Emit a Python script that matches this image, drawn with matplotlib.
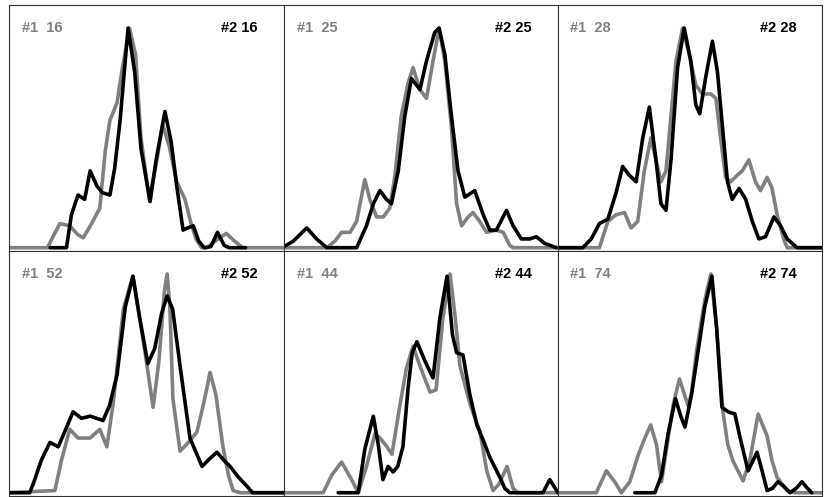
import numpy as np
import matplotlib.pyplot as plt

# panel labels (row by row)
labels = ["16", "25", "28", "52", "44", "74"]

# curve points: x = percent of panel width, y = relative height (peak = 100)
# panel 16
g16_x = [0, 14, 16, 18.5, 22, 25, 27, 30.5, 33, 35, 36.7, 39.3, 41, 43.8, 46, 48, 51, 53.5, 55.9, 58.3, 61, 64, 66, 68, 70, 72, 75, 79, 82, 85, 100]
g16_y = [0, 0, 5, 11, 10, 6, 4.5, 12, 18, 44, 58, 66, 80, 100, 88, 50, 22, 38, 56, 46, 30, 22, 12, 4, 0, 0, 3, 6.5, 3, 0, 0]
b16_x = [14.9, 20.9, 22.7, 25.1, 27.5, 29.5, 32, 34, 36.7, 38.4, 40.4, 43.3, 45.7, 48, 51.3, 53.5, 56.7, 59, 61, 63.3, 65, 67, 69, 71, 73.4, 75.8, 78.3, 80, 86]
b16_y = [0, 0, 15, 24, 22, 35, 28, 25, 24, 36, 58, 100, 80, 45, 21, 40, 62, 48, 28, 8, 9, 10, 3, 0, 0.5, 7, 1, 0, 0]

# panel 25
g25_x = [0, 15.6, 18.6, 21, 24.1, 26.5, 29.5, 31.3, 33.8, 36.2, 38.6, 40.5, 42.8, 45.3, 47.1, 49.6, 52, 54.4, 56.6, 58.7, 61.1, 63, 64.8, 67.2, 69, 71.4, 73.9, 77.5, 80, 82.4, 83.6, 100]
g25_y = [0, 0, 3, 7, 7, 12, 31, 22, 14, 14, 18, 33, 60, 75, 82, 72, 68, 85, 100, 85, 55, 20, 10, 14, 16, 12, 7, 8, 7, 1, 0, 0]
b25_x = [0, 3.4, 8.3, 11.9, 15.6, 26.5, 30.1, 32.6, 35, 37.4, 39.2, 41.7, 44.1, 46.5, 49.6, 52, 55, 56.6, 58.7, 61.1, 63.5, 66, 69.6, 72.7, 75.1, 77.5, 81.2, 83.6, 86.6, 89.7, 92.1, 95.1, 99.4]
b25_y = [0.5, 3, 9, 4, 0, 0, 10, 20, 26, 22, 20, 35, 60, 77, 72, 85, 98, 100, 88, 60, 35, 23, 26, 15, 8, 8, 17, 10, 4, 4, 5, 2, 0]

# panel 28
g28_x = [0, 15.7, 18.9, 22, 25.2, 27.7, 30.2, 32.7, 35.2, 37.1, 39, 40.9, 42.8, 44.7, 47.2, 49.7, 52.2, 54.7, 57.9, 59.8, 61.6, 63.5, 65.4, 67.9, 69.8, 72.3, 74.8, 76.7, 79.2, 81.1, 83, 85.5, 86.8, 100]
g28_y = [0, 0, 12, 15, 16, 9, 12, 35, 50, 40, 30, 35, 60, 85, 100, 88, 74, 70, 70, 68, 50, 32, 30, 33, 35, 40, 30, 26, 32, 27, 15, 4, 0, 0]
b28_x = [0, 9.4, 12.6, 15.7, 18.9, 22, 24.5, 27, 29.6, 32.1, 34.6, 37.1, 39, 40.9, 42.8, 45.3, 47.8, 50.3, 52.2, 53.7, 56, 58.5, 60.4, 62.3, 64.2, 66, 68.6, 71.1, 73.6, 76.1, 78.6, 81.8, 84.3, 86.8, 90.6, 100]
b28_y = [0, 0, 4, 11, 13, 25, 37, 33, 30, 50, 64, 40, 20, 17, 40, 82, 100, 85, 65, 61, 78, 94, 80, 55, 30, 22, 27, 22, 12, 4, 5, 14, 10, 4, 0, 0]

# panel 52
g52_x = [0, 16.7, 19.1, 22.1, 25.1, 29.5, 33, 35.6, 38, 41.6, 45, 47.5, 49.5, 52.4, 54.5, 56.5, 57.5, 58.5, 59.6, 62.2, 64.5, 68.3, 71, 73.1, 75.2, 77.8, 79.8, 81.5, 84, 100]
g52_y = [0, 1, 15, 29, 25, 25, 29, 21, 42, 84, 99, 80, 64, 39, 60, 92, 100, 85, 43, 19, 22, 27.6, 42, 55, 45, 21, 8, 1, 0, 0]
b52_x = [0, 7.5, 8.8, 11.8, 14.9, 17.9, 20.3, 23.3, 26.3, 29.5, 34.2, 36.6, 39.3, 42.3, 45.1, 47.5, 50.5, 53, 55.5, 57.5, 59.5, 62.2, 65.8, 70.2, 72.5, 75.6, 78, 80.4, 83.5, 86.5, 88.6, 100]
b52_y = [0, 0, 4, 15, 23, 21, 28, 37, 34, 35, 33, 40, 54, 85, 99, 80, 59, 66, 82, 90, 84, 58, 25, 12, 15, 18.5, 15, 12, 7, 3, 0, 0]

# panel 44
g44_x = [0, 14.3, 17.4, 21, 24.7, 27.1, 30.1, 33.2, 35, 37, 39.4, 42.3, 44.7, 47.1, 49.6, 53.3, 55.5, 58, 60.6, 62.5, 64.2, 68, 71.5, 74, 76.3, 78.5, 81.4, 83.6, 85.4, 100]
g44_y = [0, 0, 8, 14, 6, 0, 12, 27, 25, 22, 17.6, 40, 57, 67, 58, 46, 47, 80, 100, 80, 58, 40, 28, 10, 1, 4, 12, 2, 0, 0]
b44_x = [19.8, 27.1, 29.5, 32.6, 34.4, 36.1, 38, 39.8, 41.5, 43.4, 45.3, 46.8, 48.5, 51.5, 54.4, 56.9, 59.5, 61.5, 63, 65.3, 67.8, 70.4, 72.7, 75.2, 78.8, 80.6, 82.4, 94.5, 97, 100]
b44_y = [0, 0, 20, 35, 22, 6, 12, 9.5, 12, 21, 48, 64, 69, 60, 52.5, 80, 99, 72, 64, 63, 45, 31, 24, 16, 7, 2, 0, 0, 6, 0]

# panel 74
g74_x = [0, 14.5, 18.3, 21.5, 24, 27.2, 30.3, 32.9, 35.1, 37.3, 39.2, 41.1, 43.6, 46, 49.2, 50.5, 52.5, 55.6, 57.9, 60.1, 62.5, 64.3, 66.3, 70.1, 72.7, 75.8, 79.2, 81, 83, 86.7, 89.8, 100]
g74_y = [0, 0, 10, 5, 0, 5, 17, 25, 31, 22, 5, 20, 40, 52, 40, 45, 65, 88, 100, 75, 37, 22, 14.5, 5.4, 15, 36, 26, 15, 7, 1, 0, 0]
b74_x = [29.1, 36.7, 39.2, 41.7, 44.5, 46.5, 48.1, 50.6, 53.1, 55.6, 58.3, 60.1, 62.1, 64.5, 67, 69, 72, 75.4, 77.3, 79.2, 81.2, 83.3, 85.5, 87.9, 90.2, 92.4, 94.5, 96.1]
b74_y = [0, 0, 8, 27, 43, 35, 30, 45, 65, 85, 99, 75, 39, 37, 36, 25, 10, 18.5, 10, 1, 2, 5, 3, 0, 2, 5, 2, 0]

gray_x = [g16_x, g25_x, g28_x, g52_x, g44_x, g74_x]
gray_y = [g16_y, g25_y, g28_y, g52_y, g44_y, g74_y]
black_x = [b16_x, b25_x, b28_x, b52_x, b44_x, b74_x]
black_y = [b16_y, b25_y, b28_y, b52_y, b44_y, b74_y]

W, H = 824, 497
fig = plt.figure(figsize=(W / 100, H / 100), dpi=100)

# panel edges in pixels
col_edges = [9, 284, 558, 822]
row_edges = [5, 251, 496]

for i in range(6):
    r, c = divmod(i, 3)
    x0, x1 = col_edges[c], col_edges[c + 1]
    y0, y1 = row_edges[r], row_edges[r + 1]
    ax = fig.add_axes([x0 / W, 1 - y1 / H, (x1 - x0) / W, (y1 - y0) / H])
    ax.plot(gray_x[i], gray_y[i], color="#808080", lw=2.6,
            solid_joinstyle="round", solid_capstyle="round")
    ax.plot(black_x[i], black_y[i], color="black", lw=2.6,
            solid_joinstyle="round", solid_capstyle="round")
    ax.set_xlim(0, 100)
    ax.set_ylim(-1.5, 110.5)
    ax.set_xticks([])
    ax.set_yticks([])
    for s in ax.spines.values():
        s.set_linewidth(0.8)
        s.set_color("#333333")
    ax.text(0.047, 0.906, "#1  " + labels[i], transform=ax.transAxes, color="#808080",
            fontsize=10.5, fontweight="bold", family="Liberation Sans", va="center", ha="left")
    ax.text(0.905, 0.906, "#2 " + labels[i], transform=ax.transAxes, color="black",
            fontsize=10.5, fontweight="bold", family="Liberation Sans", va="center", ha="right")

fig.savefig("out.png", dpi=100)
